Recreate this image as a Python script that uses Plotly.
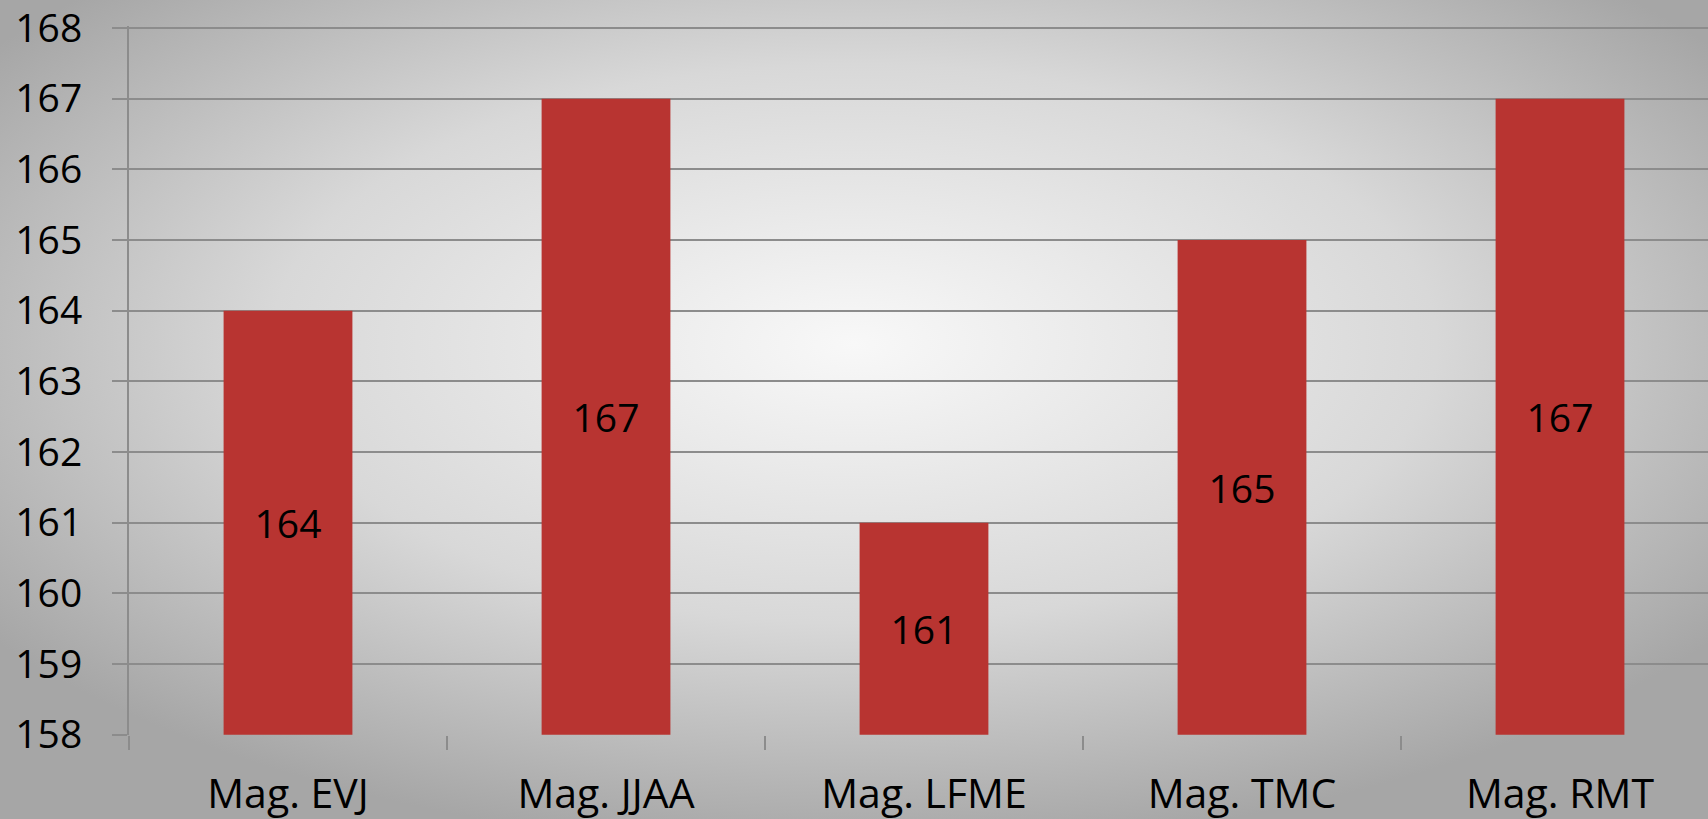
import plotly.graph_objects as go
import urllib.parse

categories = ["Mag. EVJ", "Mag. JJAA", "Mag. LFME", "Mag. TMC", "Mag. RMT"]
values = [164, 167, 161, 165, 167]
y_ticks = [158, 159, 160, 161, 162, 163, 164, 165, 166, 167, 168]

W, H = 1708, 819
L, T, B = 129, 26, 84
pw, ph = W - L, H - T - B

svg = (
    f'<svg xmlns="http://www.w3.org/2000/svg" width="{W}" height="{H}" viewBox="0 0 {W} {H}" preserveAspectRatio="none">'
    '<defs><radialGradient id="g" cx="0.5" cy="0.42" r="0.62" gradientUnits="objectBoundingBox">'
    '<stop offset="0" stop-color="#f8f8f8"/><stop offset="0.55" stop-color="#d8d8d8"/>'
    '<stop offset="1" stop-color="#a6a6a6"/></radialGradient></defs>'
    f'<rect width="{W}" height="{H}" fill="url(#g)"/></svg>'
)
bg_src = "data:image/svg+xml;charset=utf-8," + urllib.parse.quote(svg)

fig = go.Figure()
fig.add_trace(go.Bar(
    x=categories,
    y=[v - y_ticks[0] for v in values],
    base=y_ticks[0],
    text=[str(v) for v in values],
    textposition="inside",
    insidetextanchor="middle",
    textangle=0,
    insidetextfont=dict(family="Open Sans", size=39, color="#000000"),
    marker=dict(color="#b83431", line=dict(width=0)),
    width=0.405,
    hoverinfo="skip",
))

cat_w = 318
fig.update_layout(
    width=W, height=H,
    margin=dict(l=L, r=0, t=T, b=B, pad=0),
    paper_bgcolor="#c8c8c8",
    plot_bgcolor="rgba(0,0,0,0)",
    showlegend=False,
    font=dict(family="Open Sans", size=39, color="#000000"),
    images=[dict(
        source=bg_src, xref="paper", yref="paper",
        x=-L / pw, y=1 + T / ph, sizex=W / pw, sizey=H / ph,
        xanchor="left", yanchor="top", sizing="stretch", layer="below",
    )],
    xaxis=dict(
        range=[-0.5, -0.5 + pw / cat_w],
        showgrid=False,
        showline=False,
        ticks="outside", tickson="boundaries", ticklen=14, tickwidth=2, tickcolor="#8c8c8c",
        ticklabelstandoff=31,
        ticklabeloverflow="allow",
        tickfont=dict(family="Open Sans", size=41, color="#000000"),
        fixedrange=True,
    ),
    yaxis=dict(
        range=[157.995, 168.03],
        tickvals=y_ticks,
        ticktext=[str(t) for t in y_ticks],
        showgrid=True, gridcolor="#8c8c8c", gridwidth=2,
        showline=True, linecolor="#8c8c8c", linewidth=2,
        ticks="outside", ticklen=15, tickwidth=2, tickcolor="#8c8c8c",
        ticklabelstandoff=22,
        ticklabeloverflow="allow",
        zeroline=False,
        tickfont=dict(family="Open Sans", size=39, color="#000000"),
        fixedrange=True,
    ),
)

fig.write_html(
    "out.html",
    config={"displayModeBar": False},
    post_script="document.body.style.margin='0';document.body.style.overflow='hidden';",
)
